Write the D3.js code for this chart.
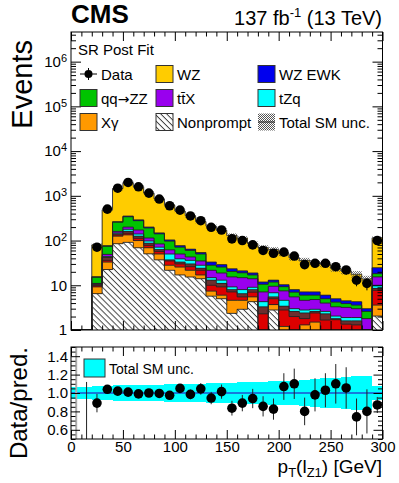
<!DOCTYPE html>
<meta charset="utf-8">
<head>
<style>
body { margin: 0; background: #fff; }
text { font-family: "Liberation Sans", Arial, Helvetica, sans-serif; fill: #000; }
</style>
</head>

<!-- Load d3.js -->
<script src="https://d3js.org/d3.v7.min.js"></script>

<div id="my_dataviz"></div>

<script>

// bins of pT(l_Z1), 10 GeV wide
var binLo = [0, 10, 20, 30, 40, 50, 60, 70, 80, 90, 100, 110, 120, 130, 140,
             150, 160, 170, 180, 190, 200, 210, 220, 230, 240, 250, 260, 270, 280, 290];
var binWidth = 10;

// observed events (no data in the first two bins)
var dataEvents = [null, null, 71, 505, 1480, 1990, 1590, 1150, 846, 600, 480, 355, 278, 198, 172,
                  109, 100, 80, 60, 52, 55, 45, 29, 31, 31, 26, 22, 13, 11, 100];

// post-fit backgrounds, stacked from the bottom up
var nonprompt = [0, 0, 6.5, 22.5, 85, 91, 69, 50.5, 37, 21.6, 17, 15.3, 14, 5.7, 5.0,
                 2.35, 2.9, 4.3, 0.3, 2.8, 0.8, 0.3, 0.3, 0.3, 0.3, 0.3, 0.3, 0.3, 0.3, 2.05];
var xgamma    = [0, 0, 2.7, 10.5, 40, 43, 31, 18.5, 13, 6.4, 8.5, 6.3, 3, 1.7, 1.0,
                 2.25, 1.7, 1.2, 0, 0.9, 0.4, 0, 1.0, 1.2, 0, 0.2, 0, 0, 0, 1.55];
var redBkg    = [0, 0, 0.6, 3, 8, 11, 12, 9, 7, 7, 4.5, 4.4, 4.6, 2.6, 3.2,
                 2.5, 0.9, 1.5, 2.0, 1.3, 1.6, 1.7, 0.5, 0.9, 1.37, 1.2, 1.05, 1.0, 0.2, 4.1];
var brownBkg  = [0, 0, 0.8, 6, 9, 15, 13, 9, 6, 2, 3, 4, 2.4, 3, 1.8,
                 0.9, 1.0, 1.0, 1.0, 0.5, 0.6, 0.6, 0.6, 0.2, 0.63, 0.1, 0.25, 0.3, 0.1, 0.8];
var tzq       = [0, 0, 0.2, 2, 6, 18, 15, 11, 8, 13, 6, 6, 4, 1.8, 2,
                 1.2, 1.5, 1.0, 1.0, 1.3, 1.2, 0.4, 0.4, 0.3, 0.3, 0.25, 0.3, 0.3, 0.1, 1.5];
var ttx       = [0, 0, 0.2, 5, 12, 22, 32, 16, 13, 12, 11, 7, 7, 6.8, 5.8,
                 6.2, 6.8, 5, 2.8, 2.7, 2.9, 2.5, 1.8, 1.9, 1.4, 1.25, 1.3, 1.1, 1.1, 5.4];
var qqzz      = [0, 0, 4.0, 25, 96, 140, 106, 77, 57, 35, 21, 17, 15, 6.4, 6.7,
                 5, 4.2, 3, 3.4, 2.3, 1.8, 1.5, 1.4, 1.2, 1.0, 0.9, 0.7, 0.6, 0.8, 2.8];
var wzewk     = [0, 0, 0.6, 3, 9, 12, 12, 9, 7, 6, 6, 4, 4, 5, 3.5,
                 3, 2, 1.8, 1.3, 1.2, 1.0, 1.0, 1.1, 1.1, 1.0, 0.8, 0.6, 0.7, 0.4, 6.5];
var wz        = [0, 0, 64.4, 411, 1185, 1618, 1310, 950, 702, 512, 380, 296, 212, 177, 141,
                 106.6, 91, 66.2, 58.2, 50, 40.7, 33, 28.9, 24.9, 24, 19, 16.5, 13.3, 10.8, 90.3];

// relative total SM uncertainty
var uncRel = [0.066, 0.066, 0.077, 0.08, 0.083, 0.085, 0.087, 0.09, 0.092, 0.094, 0.095, 0.099, 0.103, 0.107, 0.11,
              0.113, 0.117, 0.12, 0.124, 0.127, 0.13, 0.135, 0.14, 0.15, 0.16, 0.165, 0.17, 0.18, 0.18, 0.073];

// data / prediction and its error
var ratioVal = [0, 0, 0.89, 1.04, 1.02, 1.01, 0.99, 1.0, 0.995, 0.975, 1.05, 0.985, 1.045, 0.945, 1.015,
                0.835, 0.89, 0.94, 0.855, 0.825, 1.07, 1.10, 0.80, 0.98, 1.03, 1.10, 1.055, 0.74, 0.80, 0.87];
var ratioErr = [2.0, 1.12, 0.1, 0.045, 0.027, 0.023, 0.025, 0.03, 0.035, 0.04, 0.048, 0.052, 0.063, 0.067, 0.077,
                0.08, 0.089, 0.105, 0.11, 0.115, 0.145, 0.165, 0.15, 0.18, 0.185, 0.215, 0.225, 0.2, 0.24, 0.087];

var keys = ["nonprompt", "xgamma", "red", "brown", "tzq", "ttx", "qqzz", "wzewk", "wz"];
var colors = {nonprompt: "url(#hatch)", xgamma: "#ff9900", red: "#dd0000", brown: "#6b2f2f",
              tzq: "#00ffff", ttx: "#9900ee", qqzz: "#00c400", wzewk: "#0000ee", wz: "#ffcc00"};

var rows = binLo.map(function(b, i) {
  return {lo: b, nonprompt: nonprompt[i], xgamma: xgamma[i], red: redBkg[i], brown: brownBkg[i],
          tzq: tzq[i], ttx: ttx[i], qqzz: qqzz[i], wzewk: wzewk[i], wz: wz[i]};
});
var series = d3.stack().keys(keys)(rows);
var totals = series[series.length - 1].map(function(d) { return d[1]; });

var svg = d3.select("#my_dataviz").append("svg")
  .attr("width", 399).attr("height", 483);

var defs = svg.append("defs");
var hatch = defs.append("pattern").attr("id", "hatch")
  .attr("patternUnits", "userSpaceOnUse").attr("width", 4.2).attr("height", 4.2)
  .attr("patternTransform", "rotate(45)");
hatch.append("rect").attr("width", 4.2).attr("height", 4.2).attr("fill", "#fff");
hatch.append("line").attr("x1", 0).attr("y1", 0.5).attr("x2", 4.2).attr("y2", 0.5)
  .attr("stroke", "#333").attr("stroke-width", 0.9);
var unc = defs.append("pattern").attr("id", "unc")
  .attr("patternUnits", "userSpaceOnUse").attr("width", 2).attr("height", 2);
unc.append("rect").attr("x", 0).attr("y", 0).attr("width", 1).attr("height", 1).attr("fill", "#555");
unc.append("rect").attr("x", 1).attr("y", 1).attr("width", 1).attr("height", 1).attr("fill", "#555");

var pTop = {x0: 71, x1: 382.5, y0: 32, y1: 330};
var pBot = {y0: 347, y1: 439};

defs.append("clipPath").attr("id", "clipTop").append("rect")
  .attr("x", pTop.x0).attr("y", pTop.y0).attr("width", pTop.x1 - pTop.x0).attr("height", pTop.y1 - pTop.y0);
defs.append("clipPath").attr("id", "clipBot").append("rect")
  .attr("x", pTop.x0).attr("y", pBot.y0).attr("width", pTop.x1 - pTop.x0).attr("height", pBot.y1 - pBot.y0);

var x = d3.scaleLinear().domain([0, 300]).range([pTop.x0, pTop.x1]);
var y = d3.scaleLog().domain([1, 4.6e6]).range([pTop.y1, pTop.y0]).clamp(true);
var yr = d3.scaleLinear().domain([0.5, 1.5]).range([pBot.y1, pBot.y0]);

// ---------- upper panel ----------
var gTop = svg.append("g").attr("clip-path", "url(#clipTop)");

series.forEach(function(s) {
  gTop.append("g").selectAll("rect")
    .data(s)
    .enter().append("rect")
      .attr("x", function(d) { return x(d.data.lo); })
      .attr("width", function(d) { return x(d.data.lo + binWidth) - x(d.data.lo); })
      .attr("y", function(d) { return y(d[1]); })
      .attr("height", function(d) { return y(d[0]) - y(d[1]); })
      .attr("fill", colors[s.key])
      .attr("shape-rendering", "crispEdges");
});

// histogram outlines
series.forEach(function(s) {
  var p = "M" + x(0) + "," + y(0);
  s.forEach(function(d) {
    p += "V" + y(d[1]) + "H" + x(d.data.lo + binWidth);
  });
  p += "V" + y(0);
  gTop.append("path").attr("d", p).attr("fill", "none")
    .attr("stroke", "#222").attr("stroke-width", 0.9);
});

// total SM uncertainty
gTop.append("g").selectAll("rect")
  .data(binLo)
  .enter().append("rect")
    .attr("x", function(d) { return x(d); })
    .attr("width", function(d) { return x(d + binWidth) - x(d); })
    .attr("y", function(d, i) { return y(totals[i] * (1 + uncRel[i])); })
    .attr("height", function(d, i) { return y(totals[i] * (1 - uncRel[i])) - y(totals[i] * (1 + uncRel[i])); })
    .attr("fill", "url(#unc)")
    .attr("opacity", 0.8);

// data
var pts = binLo.map(function(b, i) {
  return {c: b + binWidth / 2, v: dataEvents[i], rel: ratioErr[i] / ratioVal[i]};
}).filter(function(d) { return d.v != null; });

gTop.append("g").selectAll("line")
  .data(pts)
  .enter().append("line")
    .attr("x1", function(d) { return x(d.c); })
    .attr("x2", function(d) { return x(d.c); })
    .attr("y1", function(d) { return y(d.v * (1 + d.rel)); })
    .attr("y2", function(d) { return y(d.v * (1 - d.rel)); })
    .attr("stroke", "#000");

gTop.append("g").selectAll("circle")
  .data(pts)
  .enter().append("circle")
    .attr("cx", function(d) { return x(d.c); })
    .attr("cy", function(d) { return y(d.v); })
    .attr("r", 4.8)
    .attr("fill", "#000");

// ---------- ratio panel ----------
var gBot = svg.append("g").attr("clip-path", "url(#clipBot)");

gBot.append("g").selectAll("rect")
  .data(binLo)
  .enter().append("rect")
    .attr("x", function(d) { return x(d); })
    .attr("width", function(d) { return x(d + binWidth) - x(d); })
    .attr("y", function(d, i) { return yr(1 + uncRel[i]); })
    .attr("height", function(d, i) { return yr(1 - uncRel[i]) - yr(1 + uncRel[i]); })
    .attr("fill", "#00ffff")
    .attr("shape-rendering", "crispEdges");

gBot.append("line")
  .attr("x1", pTop.x0).attr("x2", pTop.x1)
  .attr("y1", yr(1)).attr("y2", yr(1))
  .attr("stroke", "#1f4fd0").attr("stroke-width", 1.5);

gBot.append("g").selectAll("line")
  .data(binLo)
  .enter().append("line")
    .attr("x1", function(d) { return x(d + binWidth / 2); })
    .attr("x2", function(d) { return x(d + binWidth / 2); })
    .attr("y1", function(d, i) { return yr(ratioVal[i] + ratioErr[i]); })
    .attr("y2", function(d, i) { return yr(ratioVal[i] - ratioErr[i]); })
    .attr("stroke", function(d, i) { return ratioErr[i] > 1.5 ? "#aaa" : "#222"; })
    .attr("stroke-width", function(d, i) { return ratioErr[i] > 1.5 ? 2 : 1; });

gBot.append("g").selectAll("circle")
  .data(binLo)
  .enter().append("circle")
    .attr("cx", function(d) { return x(d + binWidth / 2); })
    .attr("cy", function(d, i) { return yr(ratioVal[i]); })
    .attr("r", 4.8)
    .attr("fill", "#000");

// ---------- axes ----------
function clean(g) {
  g.select(".domain").remove();
  g.selectAll(".tick line").attr("stroke", "#000");
}

var logMajor = [1, 10, 100, 1e3, 1e4, 1e5, 1e6];
var logMinor = [];
logMajor.forEach(function(m) {
  for (var k = 2; k <= 9; k++) { if (m * k < 4.6e6) logMinor.push(m * k); }
});
var xMajor = [0, 50, 100, 150, 200, 250, 300];
var xMinor = d3.range(0, 301, 10).filter(function(v) { return v % 50 != 0; });
var rMajor = [0.6, 0.8, 1.0, 1.2, 1.4];
var rMinor = d3.range(0.5, 1.501, 0.05).filter(function(v) {
  return rMajor.every(function(m) { return Math.abs(m - v) > 1e-6; });
});

var yAxisL = svg.append("g").attr("transform", "translate(" + pTop.x0 + ",0)")
  .call(d3.axisLeft(y).tickValues(logMajor).tickSize(-10).tickPadding(4).tickFormat(function(d) { return ""; }))
  .call(clean);
yAxisL.selectAll(".tick text").each(function(d) {
  var t = d3.select(this).attr("font-size", 15).attr("font-family", null);
  if (d == 1) { t.text("1"); }
  else if (d == 10) { t.text("10"); }
  else {
    t.append("tspan").text("10");
    t.append("tspan").attr("dy", "-0.45em").attr("font-size", 11).text(Math.round(Math.log10(d)));
  }
});
svg.append("g").attr("transform", "translate(" + pTop.x0 + ",0)")
  .call(d3.axisLeft(y).tickValues(logMinor).tickSize(-5).tickFormat("")).call(clean);
svg.append("g").attr("transform", "translate(" + pTop.x1 + ",0)")
  .call(d3.axisRight(y).tickValues(logMajor).tickSize(-10).tickFormat("")).call(clean);
svg.append("g").attr("transform", "translate(" + pTop.x1 + ",0)")
  .call(d3.axisRight(y).tickValues(logMinor).tickSize(-5).tickFormat("")).call(clean);

// x ticks on the upper panel
[[pTop.y1, d3.axisBottom], [pTop.y0, d3.axisTop]].forEach(function(a) {
  svg.append("g").attr("transform", "translate(0," + a[0] + ")")
    .call(a[1](x).tickValues(xMajor).tickSize(-9).tickFormat("")).call(clean);
  svg.append("g").attr("transform", "translate(0," + a[0] + ")")
    .call(a[1](x).tickValues(xMinor).tickSize(-4.5).tickFormat("")).call(clean);
});

// ratio axes
var xAxisB = svg.append("g").attr("transform", "translate(0," + pBot.y1 + ")")
  .call(d3.axisBottom(x).tickValues(xMajor).tickSize(-9).tickPadding(2).tickFormat(d3.format("d")))
  .call(clean);
xAxisB.selectAll(".tick text").attr("font-size", 15).attr("font-family", null);
svg.append("g").attr("transform", "translate(0," + pBot.y1 + ")")
  .call(d3.axisBottom(x).tickValues(xMinor).tickSize(-4.5).tickFormat("")).call(clean);
svg.append("g").attr("transform", "translate(0," + pBot.y0 + ")")
  .call(d3.axisTop(x).tickValues(xMajor).tickSize(-9).tickFormat("")).call(clean);
svg.append("g").attr("transform", "translate(0," + pBot.y0 + ")")
  .call(d3.axisTop(x).tickValues(xMinor).tickSize(-4.5).tickFormat("")).call(clean);

var yAxisR = svg.append("g").attr("transform", "translate(" + pTop.x0 + ",0)")
  .call(d3.axisLeft(yr).tickValues(rMajor).tickSize(-9).tickPadding(3).tickFormat(d3.format(".1f")))
  .call(clean);
yAxisR.selectAll(".tick text").attr("font-size", 15).attr("font-family", null);
svg.append("g").attr("transform", "translate(" + pTop.x0 + ",0)")
  .call(d3.axisLeft(yr).tickValues(rMinor).tickSize(-4.5).tickFormat("")).call(clean);
svg.append("g").attr("transform", "translate(" + pTop.x1 + ",0)")
  .call(d3.axisRight(yr).tickValues(rMajor).tickSize(-9).tickFormat("")).call(clean);
svg.append("g").attr("transform", "translate(" + pTop.x1 + ",0)")
  .call(d3.axisRight(yr).tickValues(rMinor).tickSize(-4.5).tickFormat("")).call(clean);

// frames
svg.append("rect").attr("x", pTop.x0).attr("y", pTop.y0)
  .attr("width", pTop.x1 - pTop.x0).attr("height", pTop.y1 - pTop.y0)
  .attr("fill", "none").attr("stroke", "#000");
svg.append("rect").attr("x", pTop.x0).attr("y", pBot.y0)
  .attr("width", pTop.x1 - pTop.x0).attr("height", pBot.y1 - pBot.y0)
  .attr("fill", "none").attr("stroke", "#000");

// ---------- texts ----------
svg.append("text").attr("x", 71).attr("y", 23)
  .attr("font-size", 26).attr("font-weight", "bold").text("CMS");

var lumi = svg.append("text").attr("x", 382).attr("y", 25)
  .attr("text-anchor", "end").attr("font-size", 20);
lumi.append("tspan").text("137 fb");
lumi.append("tspan").attr("dy", -8).attr("font-size", 13).text("-1");
lumi.append("tspan").attr("dy", 8).text(" (13 TeV)");

svg.append("text").attr("transform", "translate(32,40) rotate(-90)")
  .attr("text-anchor", "end").attr("font-size", 29).text("Events");

svg.append("text").attr("transform", "translate(27,347) rotate(-90)")
  .attr("text-anchor", "end").attr("font-size", 24).text("Data/pred.");

var xt = svg.append("text").attr("x", 382).attr("y", 473)
  .attr("text-anchor", "end").attr("font-size", 19);
xt.append("tspan").text("p");
xt.append("tspan").attr("dy", 4).attr("font-size", 13).text("T");
xt.append("tspan").attr("dy", -4).text("(l");
xt.append("tspan").attr("dy", 4).attr("font-size", 13).text("Z1");
xt.append("tspan").attr("dy", -4).text(") [GeV]");

svg.append("text").attr("x", 78).attr("y", 55).attr("font-size", 15).text("SR Post Fit");

// ---------- legend ----------
var legRows = [74, 98, 122];
var legCols = [80, 156, 258];
var legend = [
  {label: "Data", type: "data", r: 0, c: 0},
  {label: "WZ", fill: colors.wz, r: 0, c: 1},
  {label: "WZ EWK", fill: colors.wzewk, r: 0, c: 2},
  {label: "qq\u2192ZZ", fill: colors.qqzz, r: 1, c: 0},
  {label: "tt\u0304X", fill: colors.ttx, r: 1, c: 1},
  {label: "tZq", fill: colors.tzq, r: 1, c: 2},
  {label: "X\u03b3", fill: colors.xgamma, r: 2, c: 0},
  {label: "Nonprompt", fill: colors.nonprompt, r: 2, c: 1},
  {label: "Total SM unc.", fill: "url(#unc)", type: "unc", r: 2, c: 2}
];

legend.forEach(function(e) {
  var lx = legCols[e.c], ly = legRows[e.r];
  if (e.type == "data") {
    svg.append("line").attr("x1", lx).attr("x2", lx + 17).attr("y1", ly).attr("y2", ly).attr("stroke", "#000");
    svg.append("line").attr("x1", lx + 8.5).attr("x2", lx + 8.5).attr("y1", ly - 6).attr("y2", ly + 6).attr("stroke", "#000");
    svg.append("circle").attr("cx", lx + 8.5).attr("cy", ly).attr("r", 4).attr("fill", "#000");
  } else {
    svg.append("rect").attr("x", lx).attr("y", ly - 8.5).attr("width", 17).attr("height", 17)
      .attr("fill", e.fill).attr("stroke", e.type == "unc" ? "none" : "#333");
    if (e.type == "unc") {
      svg.append("line").attr("x1", lx).attr("x2", lx + 17).attr("y1", ly).attr("y2", ly)
        .attr("stroke", "#333").attr("stroke-width", 1.2);
    }
  }
  var t = svg.append("text").attr("x", lx + 21).attr("y", ly + 5.5).attr("font-size", 15);
  if (e.label.indexOf("\u2192") >= 0) {
    // the arrow looks too small in Liberation Sans
    var parts = e.label.split("\u2192");
    t.append("tspan").text(parts[0]);
    t.append("tspan").attr("font-family", "DejaVu Sans").attr("font-size", 14).text("\u2192");
    t.append("tspan").text(parts[1]);
  } else {
    t.text(e.label);
  }
});

// ratio legend
svg.append("rect").attr("x", 84).attr("y", 359).attr("width", 21).attr("height", 18)
  .attr("fill", "#00ffff").attr("stroke", "#333");
svg.append("text").attr("x", 109).attr("y", 373.5).attr("font-size", 14).text("Total SM unc.");

</script>
